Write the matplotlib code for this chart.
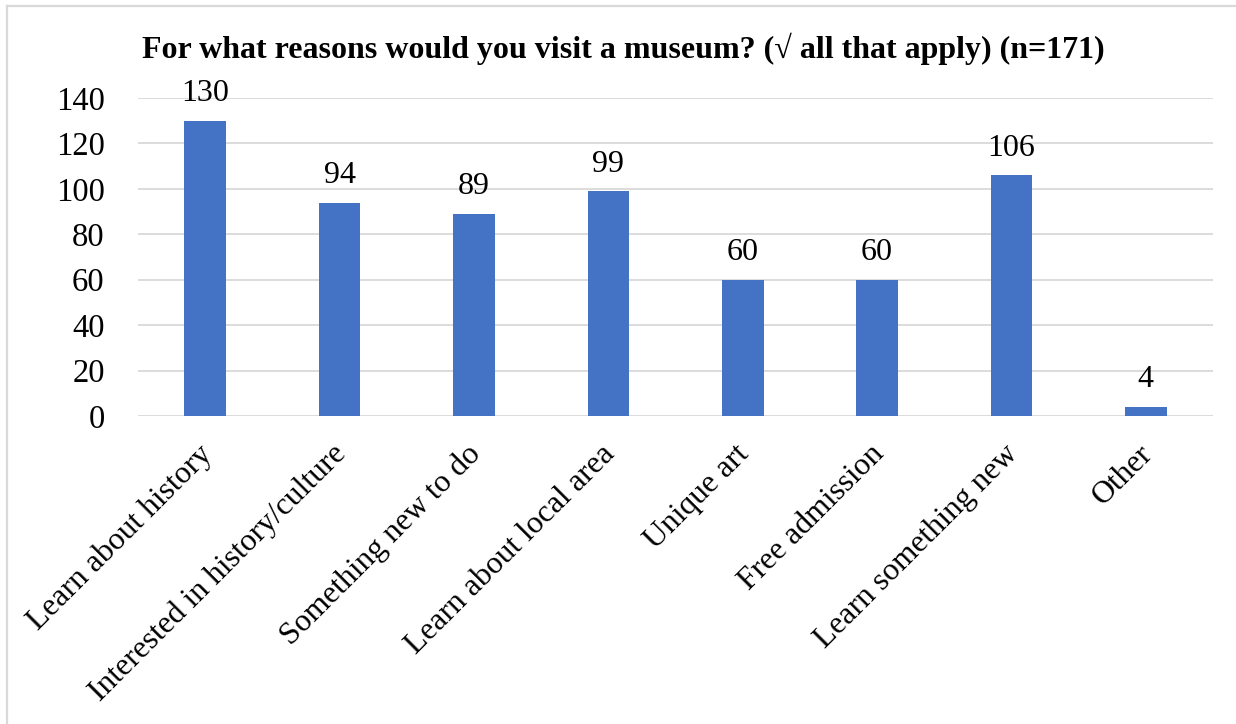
import matplotlib
matplotlib.use('Agg')
import matplotlib.pyplot as plt
import matplotlib.transforms as mtransforms
from matplotlib.lines import Line2D

# survey answers
reasons = ['Learn about history', 'Interested in history/culture', 'Something new to do',
           'Learn about local area', 'Unique art', 'Free admission',
           'Learn something new', 'Other']
counts = [130, 94, 89, 99, 60, 60, 106, 4]
yticks = [0, 20, 40, 60, 80, 100, 120, 140]

plt.rcParams['font.family'] = ['Liberation Serif', 'DejaVu Serif']

fig = plt.figure(figsize=(12.36, 7.24), dpi=100)
ax = fig.add_axes([0.1117, 0.4254, 0.8697, 0.4392])

bars = ax.bar(range(len(reasons)), counts, width=0.31, color='#4472c4', zorder=3)
for b, v in zip(bars, counts):
    ax.text(b.get_x() + b.get_width() / 2, v + 5.5, str(v), ha='center', va='bottom', fontsize=23)

ax.set_xlim(-0.5, len(reasons) - 0.5)
ax.set_ylim(0, 140)
ax.set_yticks(yticks)
ax.set_yticklabels([str(t) for t in yticks], fontsize=23.5)
ax.set_xticks(range(len(reasons)))
ax.set_xticklabels(reasons, rotation=45, ha='right', va='top', rotation_mode='anchor', fontsize=22.8)
ax.tick_params(axis='both', length=0)
ax.tick_params(axis='y', pad=24)
ax.tick_params(axis='x', pad=14)
# nudge rotated labels a little left/down
shift = mtransforms.ScaledTranslation(-0.08, -0.04, fig.dpi_scale_trans)
for lbl in ax.get_xticklabels():
    lbl.set_transform(lbl.get_transform() + shift)
ax.grid(axis='y', color='#d9d9d9', linewidth=1.3, zorder=0)
for s in ax.spines.values():
    s.set_visible(False)

fig.text(0.504, 0.932, 'For what reasons would you visit a museum? (\u221a all that apply) (n=171)',
         ha='center', va='center', fontsize=23, fontweight='bold')

# chart frame: only top and left edges show
fig.lines.append(Line2D([7 / 1236, 7 / 1236], [0, 1 - 6 / 724], transform=fig.transFigure,
                        color='#d9d9d9', linewidth=1.6))
fig.lines.append(Line2D([7 / 1236, 1], [1 - 6 / 724, 1 - 6 / 724], transform=fig.transFigure,
                        color='#d9d9d9', linewidth=1.6))

plt.savefig('out.png', dpi=100)
